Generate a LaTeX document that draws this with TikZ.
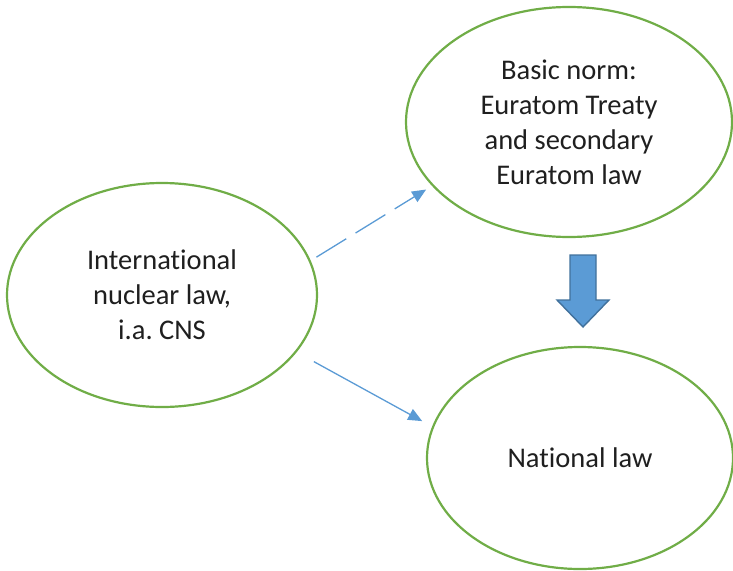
\documentclass[tikz,border=0pt]{standalone}
\usepackage{fontspec}
\setmainfont{Carlito}[Ligatures=NoCommon]
\usepackage{tikz}
\usetikzlibrary{positioning, arrows.meta, shapes.geometric}
\frenchspacing

\definecolor{lawgreen}{HTML}{70AD47}
\definecolor{linkblue}{HTML}{5B9BD5}
\definecolor{edgeblue}{HTML}{41719C}

\begin{document}
\begin{tikzpicture}[
  x=1pt, y=-1pt,
  law/.style={draw=lawgreen, line width=2.2pt, ellipse, inner sep=0pt,
    align=center, text=black!88, font=\fontsize{28.5}{35}\selectfont},
  link/.style={-{Triangle[length=14pt, width=12pt]}, linkblue, line width=1.3pt},
]

\useasboundingbox (0,0) rectangle (733,570);

% --- Law levels ---
\node[law, minimum width=310pt, minimum height=224pt] (intl) at (162,295)
  {International\\nuclear law,\\i.a. CNS};
\node[law, minimum width=326pt, minimum height=230pt] (basic) at (569,122)
  {Basic norm:\\Euratom Treaty\\and secondary\\Euratom law};
\node[law, minimum width=306pt, minimum height=222pt] (natl) at (580,458)
  {National law};

% --- Arrows from international law ---
\draw[link, dash pattern=on 35pt off 11pt, shorten <=6.7pt, shorten >=6.9pt]
  (intl.13.8) -- (basic.205.5);
\draw[link, shorten <=19.6pt, shorten >=11.3pt]
  (intl.337.7) -- (natl.168.3);

% --- Block arrow: Euratom -> national ---
\draw[fill=linkblue, draw=edgeblue, line width=1.4pt, line join=miter]
  (570,255) -- (596,255) -- (596,300) -- (609,300) -- (583,327)
  -- (557,300) -- (570,300) -- cycle;

\end{tikzpicture}
\end{document}
